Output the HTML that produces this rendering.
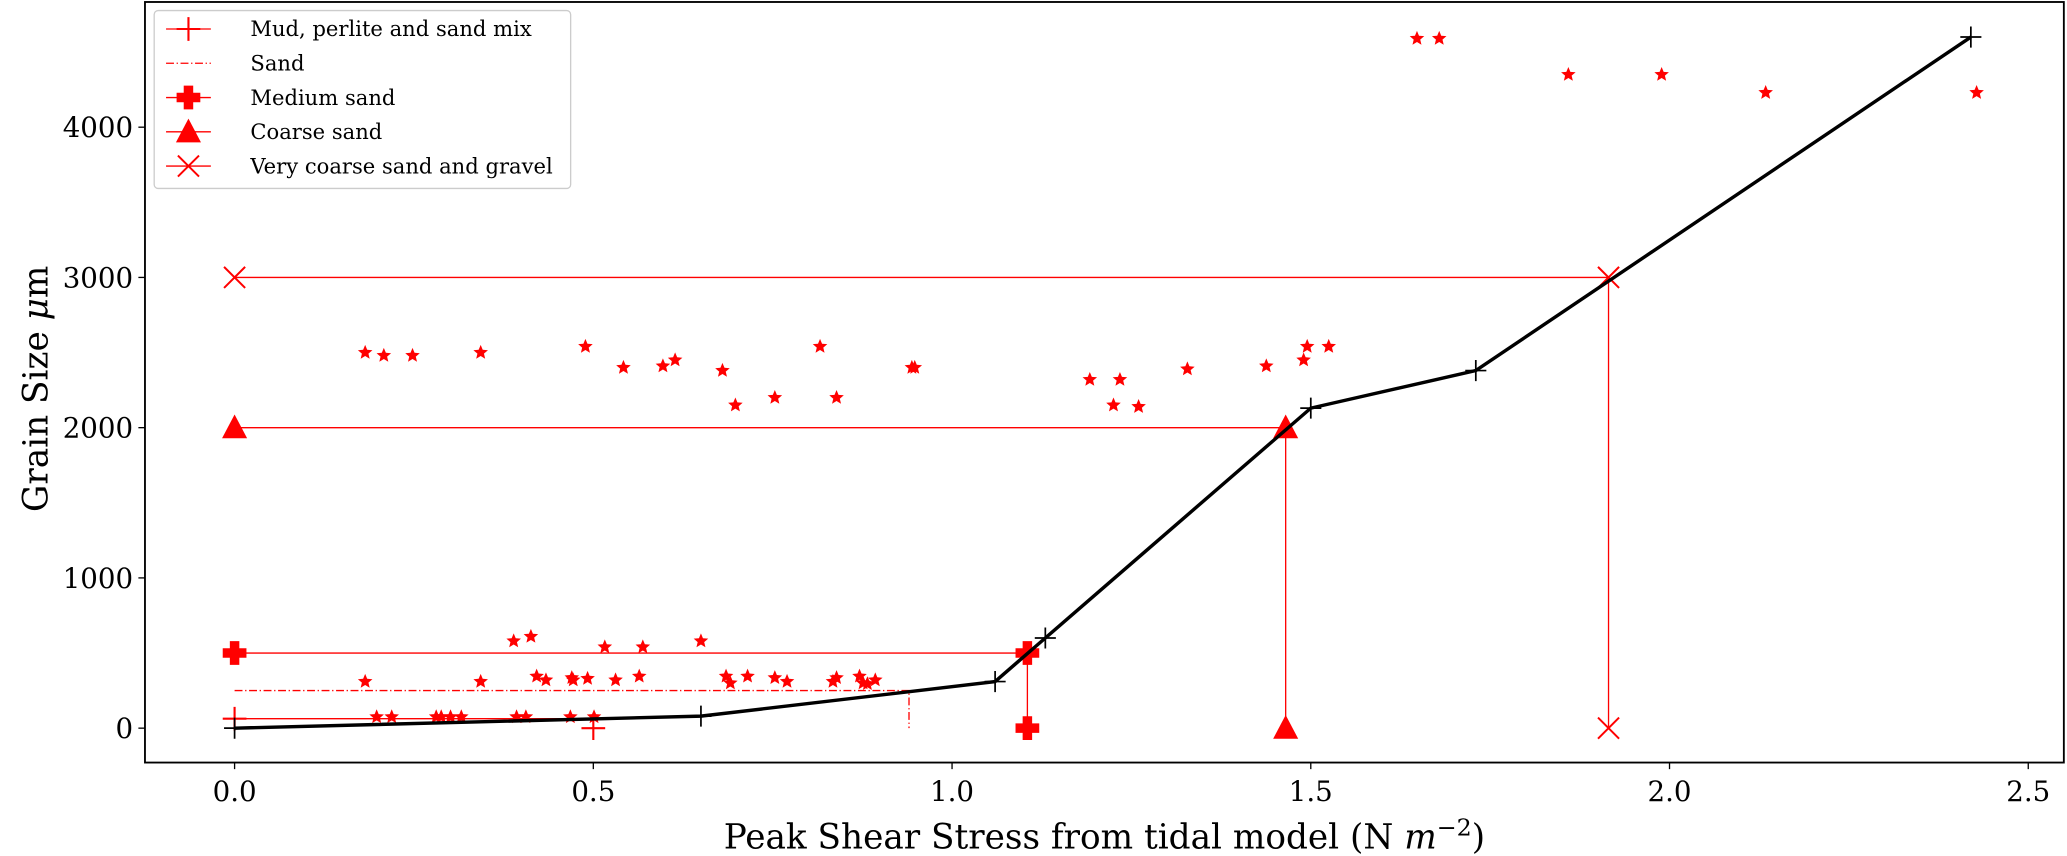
<!DOCTYPE html>
<html><head><meta charset="utf-8"><style>html,body{margin:0;padding:0;background:#fff}svg{display:block}text{font-family:"DejaVu Serif","Liberation Serif",serif}</style></head>
<body>
<svg id="chart" width="2067" height="856" viewBox="0 0 1568.4 649.5" xmlns="http://www.w3.org/2000/svg">
<rect x="0" y="0" width="1568.4" height="649.5" fill="#fff"/>
<g id="plot"></g>
<g id="legend"></g>
</svg>
<script>
const curveX=[0,0.65,1.06,1.13,1.50,1.73,2.42];
const curveY=[0,80,310,600,2130,2380,4600];
const starX=[0.182,0.208,0.248,0.343,0.489,0.542,0.597,0.614,0.680,0.698,0.753,0.816,0.839,0.944,0.948,1.192,1.225,1.234,1.260,1.328,1.438,1.490,1.495,1.525,1.648,1.679,1.859,1.989,2.134,2.428,
0.389,0.413,0.516,0.569,0.650,
0.182,0.343,0.421,0.434,0.470,0.472,0.492,0.531,0.564,0.685,0.691,0.715,0.753,0.770,0.834,0.839,0.871,0.876,0.882,0.893,
0.198,0.219,0.281,0.288,0.301,0.316,0.393,0.406,0.468,0.501];
const starY=[2500,2480,2480,2500,2540,2400,2410,2450,2380,2150,2200,2540,2200,2400,2400,2320,2150,2320,2140,2390,2410,2450,2540,2540,4590,4590,4350,4350,4230,4230,
580,610,540,540,580,
310,310,345,320,335,320,330,320,345,345,300,345,335,310,310,335,345,300,295,320,
75,75,75,75,75,75,75,75,75,75];
const classNames=["Mud, perlite and sand mix","Sand","Medium sand","Coarse sand","Very coarse sand and gravel"];
const classSize=[63,250,500,2000,3000];
const classStress=[0.5,0.94,1.105,1.465,1.915];
const xTicks=[0,0.5,1.0,1.5,2.0,2.5];
const xTickLabels=["0.0","0.5","1.0","1.5","2.0","2.5"];
const yTicks=[0,1000,2000,3000,4000];
const yTickLabels=["0","1000","2000","3000","4000"];

const NS="http://www.w3.org/2000/svg";
const L=110,R=1566,T=1.5,B=578.6;
const sx=v=>178+v*544.4;
const sy=v=>552.5-v*0.114;
const plot=document.getElementById('plot');
const legend=document.getElementById('legend');
function mk(tag,attrs,parent){const e=document.createElementNS(NS,tag);for(const k in attrs)e.setAttribute(k,attrs[k]);(parent||plot).appendChild(e);return e;}
function plus(x,y,s,col,w,parent){return mk('path',{d:`M${x-s} ${y}H${x+s}M${x} ${y-s}V${y+s}`,stroke:col,'stroke-width':w,fill:'none'},parent);}
function marker(kind,x,y,parent){
  if(kind===0)return plus(x,y,9,'#f00',1.6,parent);
  if(kind===2){const a=3.6,b=9;return mk('path',{d:`M${x-a} ${y-b}H${x+a}V${y-a}H${x+b}V${y+a}H${x+a}V${y+b}H${x-a}V${y+a}H${x-b}V${y-a}H${x-a}Z`,fill:'#f00'},parent);}
  if(kind===3)return mk('path',{d:`M${x} ${y-10}L${x+9.5} ${y+8}L${x-9.5} ${y+8}Z`,fill:'#f00'},parent);
  if(kind===4)return mk('path',{d:`M${x-8} ${y-8}L${x+8} ${y+8}M${x-8} ${y+8}L${x+8} ${y-8}`,stroke:'#f00','stroke-width':1.5,fill:'none'},parent);
  return null;
}
classSize.forEach((s,i)=>{
  const g=mk('g',{});
  
  
  const dash=i===1?{'stroke-dasharray':'6 2 1 2'}:{};
  mk('path',Object.assign({d:`M${sx(0)} ${sy(s)}H${sx(classStress[i])}V${sy(0)}`,stroke:'#f00','stroke-width':1,fill:'none'},dash),g);
  if(i!==1){
    const m1=marker(i,sx(0),sy(s),g);
    
    
    const m2=marker(i,sx(classStress[i]),sy(i===0?0:s),g);
    
    
    if(i!==0){const m3=marker(i,sx(classStress[i]),sy(0),g);
    
    }
  }
});
function starPath(x,y,r){let d='';for(let k=0;k<10;k++){const rr=k%2?r*0.45:r;const a=-Math.PI/2+k*Math.PI/5;d+=(k?'L':'M')+(x+rr*Math.cos(a)).toFixed(2)+' '+(y+rr*Math.sin(a)).toFixed(2);}return d+'Z';}
starX.forEach((v,i)=>{
  const s=mk('path',{d:starPath(sx(v),sy(starY[i]),5.8),fill:'#f00'});
  
  
});
const cl=mk('polyline',{points:curveX.map((v,i)=>sx(v)+','+sy(curveY[i])).join(' '),fill:'none',stroke:'#000','stroke-width':2.6});


curveX.forEach((v,i)=>{
  const m=plus(sx(v),sy(curveY[i]),8,'#000',1.3);
  
  
});
const frame=mk('rect',{x:L,y:T,width:R-L,height:B-T,fill:'none',stroke:'#000','stroke-width':1.4});


xTicks.forEach((v,i)=>{
  mk('line',{x1:sx(v),x2:sx(v),y1:B,y2:B+5,stroke:'#000','stroke-width':1});
  const t=mk('text',{x:sx(v),y:B+29,'font-size':21,'text-anchor':'middle'});t.textContent=xTickLabels[i];
  
  
});
yTicks.forEach((v,i)=>{
  mk('line',{x1:L-5,x2:L,y1:sy(v),y2:sy(v),stroke:'#000','stroke-width':1});
  const t=mk('text',{x:L-9,y:sy(v)+7.5,'font-size':21,'text-anchor':'end'});t.textContent=yTickLabels[i];
  
  
});
const xl=mk('text',{x:838,y:644,'font-size':26,'text-anchor':'middle'});
xl.innerHTML='Peak Shear Stress from tidal model (N <tspan font-style="italic">m</tspan><tspan font-size="18" dy="-10">−2</tspan><tspan dy="10">)</tspan>';


const yl=mk('text',{x:0,y:0,'font-size':26,'text-anchor':'middle',transform:'translate(36,295) rotate(-90)'});
yl.innerHTML='Grain Size <tspan font-style="italic">μ</tspan>m';


mk('rect',{x:117,y:8,width:316,height:135,rx:3,fill:'#fff','fill-opacity':0.85,stroke:'#ccc','stroke-width':1},legend);
classNames.forEach((n,i)=>{
  const y=22+i*26;
  const g=mk('g',{},legend);
  
  
  mk('line',Object.assign({x1:126,x2:160,y1:y,y2:y,stroke:'#f00','stroke-width':1},i===1?{'stroke-dasharray':'6 2 1 2'}:{}),g);
  marker(i,143,y,g);
  const t=mk('text',{x:190,y:y+5.5,'font-size':16},g);t.textContent=n;
});
</script>
</body></html>
